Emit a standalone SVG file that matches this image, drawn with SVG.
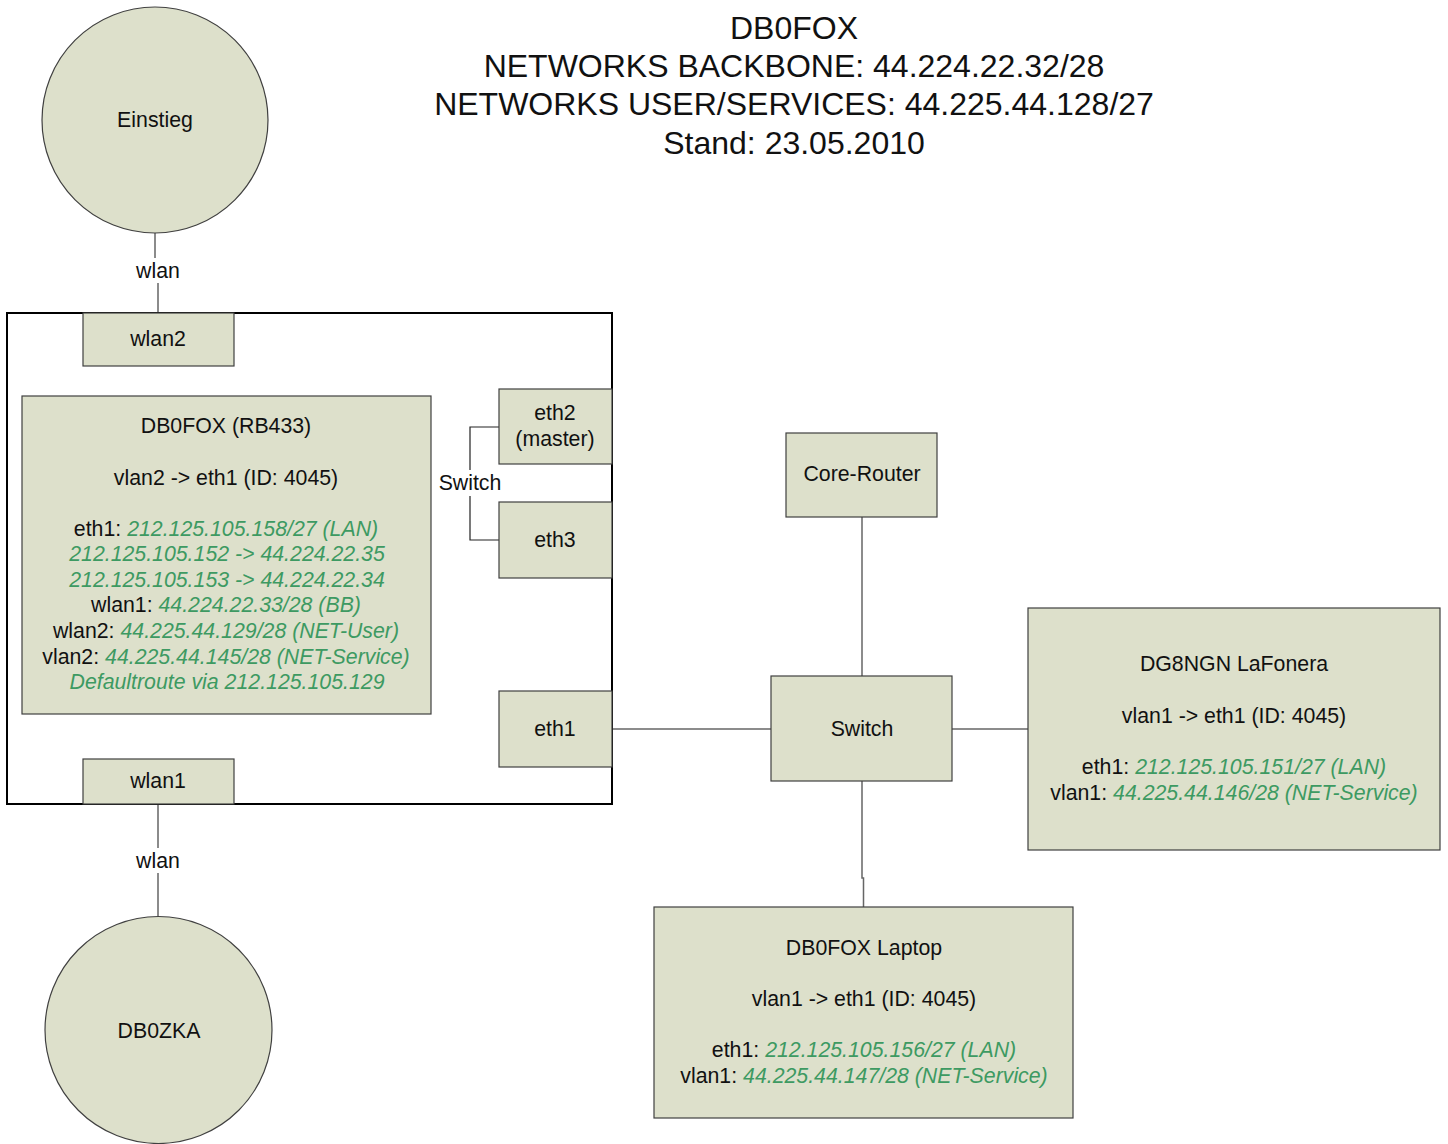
<svg xmlns="http://www.w3.org/2000/svg" width="1448" height="1144" viewBox="0 0 1448 1144">
  <style>
    text { font-family: "Liberation Sans", Arial, sans-serif; fill: #111; text-anchor: middle; }
    .title { font-size: 32px; }
    .lbl { font-size: 21.3px; }
    .ip { fill: #3d9a62; font-style: italic; }
    .box { fill: #dde0cb; stroke: #404040; stroke-width: 1.2; }
    .frame { fill: none; stroke: #000; stroke-width: 2; }
    .wire { fill: none; stroke: #666; stroke-width: 1.5; }
    .thin { fill: none; stroke: #222; stroke-width: 1.2; }
  </style>

  <!-- header -->
  <g id="title" class="title">
    <text x="794" y="39">DB0FOX</text>
    <text x="794" y="77">NETWORKS BACKBONE: 44.224.22.32/28</text>
    <text x="794" y="115">NETWORKS USER/SERVICES: 44.225.44.128/27</text>
    <text x="794" y="154">Stand: 23.05.2010</text>
  </g>

  <!-- links -->
  <g id="connectors">
    <path class="wire" d="M155 233 V258 M158 283 V313"/>
    <path class="wire" d="M158 804 V848 M158 873 V917"/>
    <path class="thin" d="M499 427 H470 V470 M470 496 V540 H499"/>
    <path class="wire" d="M612 729 H771"/>
    <path class="wire" d="M952 729 H1028"/>
    <path class="wire" d="M862 517 V676"/>
    <path class="wire" d="M862 733 V749"/>
    <path class="wire" d="M862 781 V878 H863.5 V907"/>
  </g>

  <!-- wlan link labels -->
  <g id="link-labels" class="lbl">
    <text x="158" y="278">wlan</text>
    <text x="158" y="868">wlan</text>
    <text x="470" y="490">Switch</text>
  </g>

  <g id="einstieg">
    <circle class="box" cx="155" cy="120" r="113"/>
    <text class="lbl" x="155" y="127">Einstieg</text>
  </g>

  <g id="db0zka">
    <circle class="box" cx="158.5" cy="1030" r="113.5"/>
    <text class="lbl" x="159" y="1038">DB0ZKA</text>
  </g>

  <!-- router enclosure -->
  <g id="rb433-frame">
    <rect class="frame" x="7" y="313" width="605" height="491"/>
  </g>

  <g id="port-wlan2">
    <rect class="box" x="83" y="313" width="151" height="53"/>
    <text class="lbl" x="158" y="346">wlan2</text>
  </g>

  <g id="port-wlan1">
    <rect class="box" x="83" y="759" width="151" height="45"/>
    <text class="lbl" x="158" y="788">wlan1</text>
  </g>

  <g id="port-eth2">
    <rect class="box" x="499" y="389" width="113" height="75"/>
    <text class="lbl" x="555" y="420">eth2</text>
    <text class="lbl" x="555" y="446">(master)</text>
  </g>

  <g id="port-eth3">
    <rect class="box" x="499" y="502" width="113" height="76"/>
    <text class="lbl" x="555" y="547">eth3</text>
  </g>

  <g id="port-eth1">
    <rect class="box" x="499" y="691" width="113" height="76"/>
    <text class="lbl" x="555" y="736">eth1</text>
  </g>

  <g id="db0fox-rb433" class="lbl">
    <rect class="box" x="22" y="396" width="409" height="318"/>
    <text x="226" y="433">DB0FOX (RB433)</text>
    <text x="226" y="485">vlan2 -&gt; eth1 (ID: 4045)</text>
    <text x="226" y="536">eth1: <tspan class="ip">212.125.105.158/27 (LAN)</tspan></text>
    <text x="227" y="561" class="ip">212.125.105.152 -&gt; 44.224.22.35</text>
    <text x="227" y="587" class="ip">212.125.105.153 -&gt; 44.224.22.34</text>
    <text x="226" y="612">wlan1: <tspan class="ip">44.224.22.33/28 (BB)</tspan></text>
    <text x="226" y="638">wlan2: <tspan class="ip">44.225.44.129/28 (NET-User)</tspan></text>
    <text x="226" y="664">vlan2: <tspan class="ip">44.225.44.145/28 (NET-Service)</tspan></text>
    <text x="227" y="689" class="ip">Defaultroute via 212.125.105.129</text>
  </g>

  <g id="core-router">
    <rect class="box" x="786" y="433" width="151" height="84"/>
    <text class="lbl" x="862" y="481">Core-Router</text>
  </g>

  <g id="switch">
    <rect class="box" x="771" y="676" width="181" height="105"/>
    <text class="lbl" x="862" y="736">Switch</text>
  </g>

  <g id="dg8ngn-lafonera" class="lbl">
    <rect class="box" x="1028" y="608" width="412" height="242"/>
    <text x="1234" y="671">DG8NGN LaFonera</text>
    <text x="1234" y="723">vlan1 -&gt; eth1 (ID: 4045)</text>
    <text x="1234" y="774">eth1: <tspan class="ip">212.125.105.151/27 (LAN)</tspan></text>
    <text x="1234" y="800">vlan1: <tspan class="ip">44.225.44.146/28 (NET-Service)</tspan></text>
  </g>

  <g id="db0fox-laptop" class="lbl">
    <rect class="box" x="654" y="907" width="419" height="211"/>
    <text x="864" y="955">DB0FOX Laptop</text>
    <text x="864" y="1006">vlan1 -&gt; eth1 (ID: 4045)</text>
    <text x="864" y="1057">eth1: <tspan class="ip">212.125.105.156/27 (LAN)</tspan></text>
    <text x="864" y="1083">vlan1: <tspan class="ip">44.225.44.147/28 (NET-Service)</tspan></text>
  </g>
</svg>
